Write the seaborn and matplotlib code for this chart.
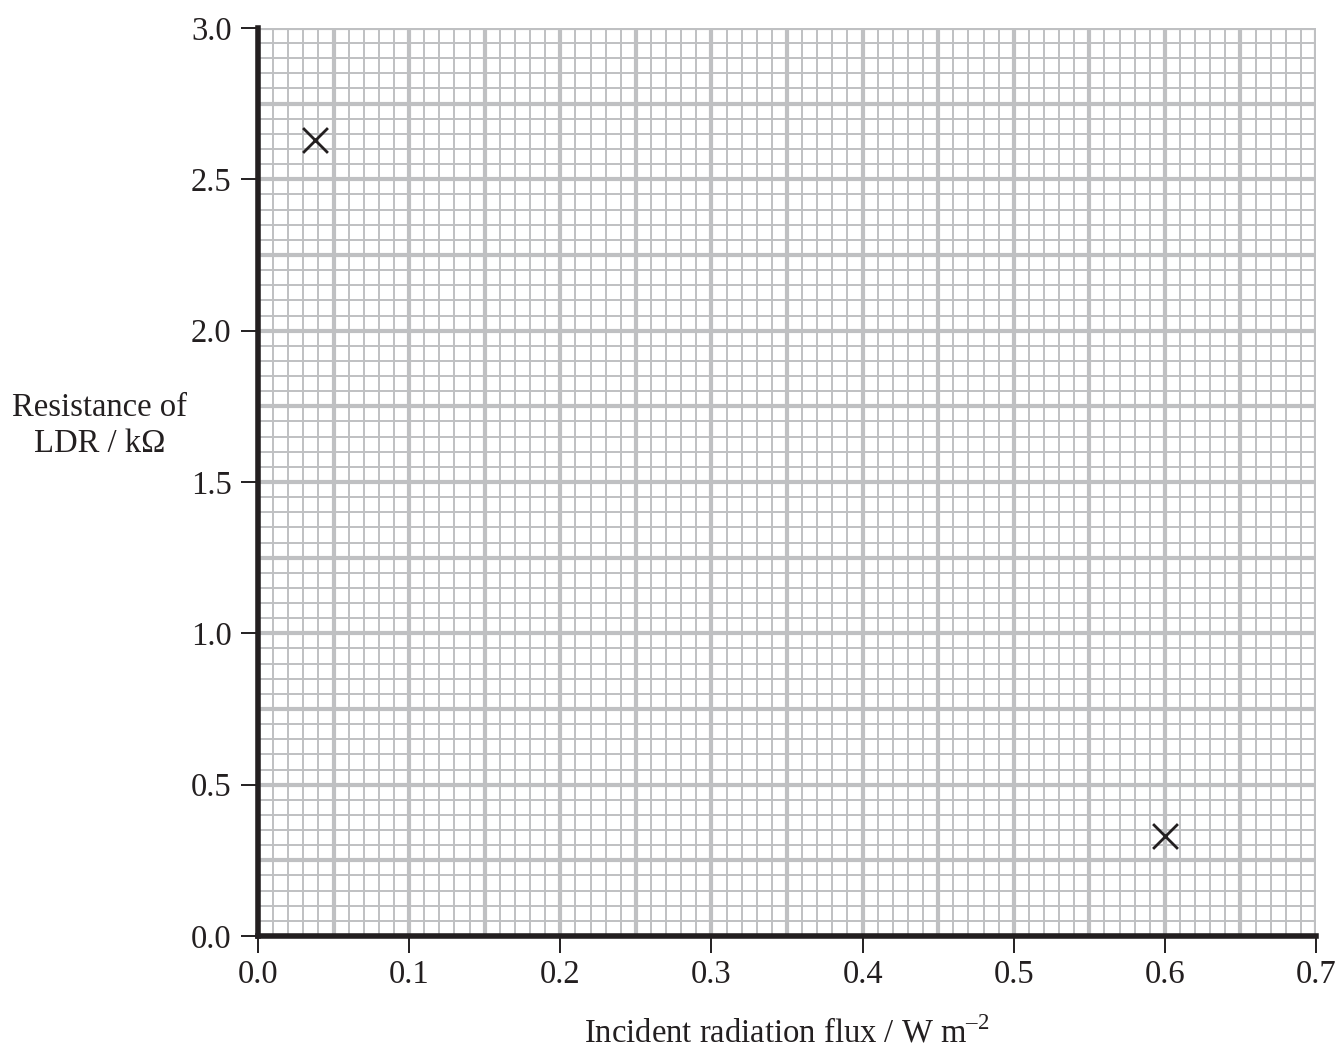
import numpy as np
import pandas as pd
import matplotlib
matplotlib.use("Agg")
import matplotlib.pyplot as plt
import seaborn as sns

# data
flux = [0.038, 0.60]
resistance = [2.63, 0.33]

x_ticks = [0.0, 0.1, 0.2, 0.3, 0.4, 0.5, 0.6, 0.7]
y_ticks = [0.0, 0.5, 1.0, 1.5, 2.0, 2.5, 3.0]

sns.set_theme(style="white")
plt.rcParams["font.family"] = ["Liberation Serif", "DejaVu Serif"]
plt.rcParams["mathtext.fontset"] = "custom"
plt.rcParams["mathtext.rm"] = "Liberation Serif"

fig = plt.figure(figsize=(13.38, 10.51), dpi=100)
ax = fig.add_axes([0.1928, 0.1094, 0.7908, 0.864])

grid_col = "#bfc0c2"
# graph paper: thin lines every small square, thick every 5 squares
for i, gx in enumerate(np.linspace(0, 0.7, 71)):
    ax.axvline(gx, color=grid_col, lw=3.0 if i % 5 == 0 else 1.4, zorder=0)
for i, gy in enumerate(np.linspace(0, 3.0, 61)):
    ax.axhline(gy, color=grid_col, lw=3.0 if i % 5 == 0 else 1.4, zorder=0)

df = pd.DataFrame({"flux": flux, "resistance": resistance})
sns.scatterplot(data=df, x="flux", y="resistance", marker="x", s=320,
                color="#231f20", linewidth=2.0, ax=ax, zorder=5)

ax.set_xlim(0, 0.7)
ax.set_ylim(0, 3.0)
ax.set_xticks(x_ticks)
ax.set_yticks(y_ticks)
ax.set_xticklabels([f"{v:.1f}" for v in x_ticks])
ax.set_yticklabels([f"{v:.1f}" for v in y_ticks])
ax.tick_params(axis="both", direction="out", length=12, width=1.4,
               colors="#231f20", labelsize=23.5, pad=5,
               bottom=True, left=True)
ax.tick_params(axis="y", pad=7)

for side in ["top", "right"]:
    ax.spines[side].set_visible(False)
for side in ["left", "bottom"]:
    ax.spines[side].set_color("#231f20")
    ax.spines[side].set_linewidth(4)
    ax.spines[side].set_zorder(6)

ax.set_xlabel("Incident radiation flux / W m$^{\u2013 2}$", fontsize=23.5,
              labelpad=19, color="#231f20")
ax.set_ylabel("Resistance of\nLDR / k\u03a9", fontsize=23.5, rotation=0,
              color="#231f20", ha="center", va="center")
ax.yaxis.set_label_coords(-0.15, 0.562)

fig.savefig("out.png", dpi=100)
